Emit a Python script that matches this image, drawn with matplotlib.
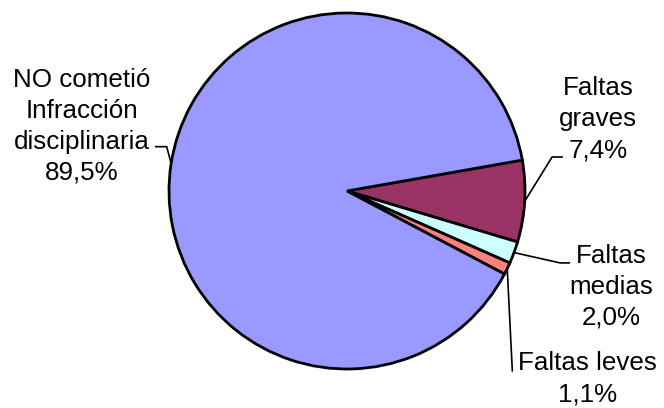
import numpy as np
import matplotlib.pyplot as plt

plt.rcParams['font.family'] = ['Liberation Sans', 'DejaVu Sans']

labels = ["Faltas\ngraves", "Faltas\nmedias", "Faltas leves", "NO cometió\nInfracción\ndisciplinaria"]
values = [7.4, 2.0, 1.1, 89.5]
colors = ["#993366", "#CCFFFF", "#FF8080", "#9999FF"]

# label layout (data units, pie radius = 1): text x, first baseline y, leader elbow/end
text_pos = [(1.410, 0.539), (1.483, -0.404), (1.351, -1.006), (-1.489, 0.586)]
leader_pts = [[(1.152, 0.191), (1.213, 0.191)],
              [(1.197, -0.404), (1.253, -0.404)],
              [(0.929, -1.015)],
              [(-1.013, 0.249), (-1.079, 0.249)]]
line_step = 0.174

fig = plt.figure(figsize=(6.64, 4.08), dpi=100)
ax = fig.add_axes([0, 0, 1, 1])

wedges, _ = ax.pie(values, colors=colors, startangle=10, counterclock=False, radius=1,
                   wedgeprops=dict(edgecolor="black", linewidth=2.0))

ax.set_xlim(-347 / 178, (664 - 347) / 178)
ax.set_ylim((191 - 408) / 178, 191 / 178)
ax.set_aspect("auto")
ax.axis("off")

for w, lab, v, (tx, ty), pts in zip(wedges, labels, values, text_pos, leader_pts):
    ang = np.deg2rad((w.theta1 + w.theta2) / 2)
    xs = [np.cos(ang)] + [p[0] for p in pts]
    ys = [np.sin(ang)] + [p[1] for p in pts]
    ax.plot(xs, ys, color="black", lw=1.2, solid_capstyle="butt")
    lines = lab.split("\n") + [f"{v:.1f}%".replace(".", ",")]
    for i, line in enumerate(lines):
        ax.text(tx, ty - i * line_step, line, ha="center", va="baseline",
                fontsize=18.7, color="black")

fig.savefig("out.png", dpi=100)
